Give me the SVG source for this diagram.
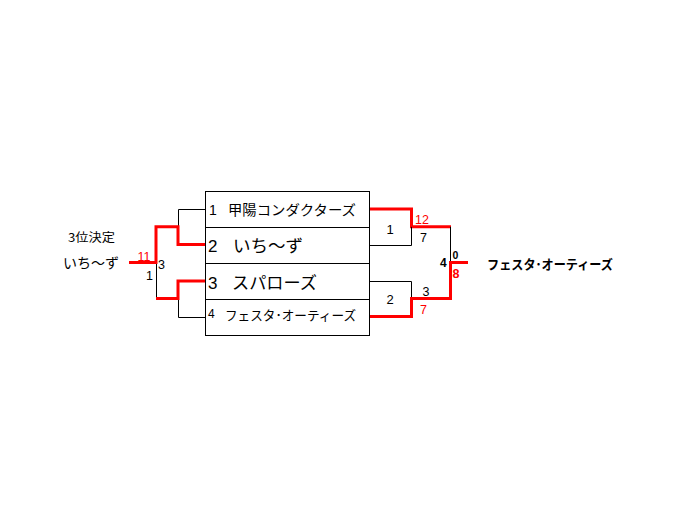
<svg xmlns="http://www.w3.org/2000/svg" width="696" height="525" viewBox="0 0 696 525">
<style>
.bg{fill:#ffffff}
.box{fill:#ffffff;stroke:#000000;stroke-width:1}
.ln{fill:none;stroke:#000000;stroke-width:1}
.win{fill:none;stroke:#ff0000;stroke-width:3;stroke-linejoin:miter;stroke-linecap:butt}
.t{font-family:"Liberation Sans","Noto Sans CJK JP",sans-serif;fill:#000000}
.jp{font-family:"Noto Sans CJK JP","Noto Sans",sans-serif;fill:#000000}
.red{fill:#ff0000}
.b{font-weight:bold}
</style>
<rect class="bg" x="0" y="0" width="696" height="525"/>
<g id="connectors">
  <!-- left bracket (3rd place) -->
  <path class="ln" d="M178.5 209.5 H205.5 M178.5 209.5 V227"/>
  <path class="ln" d="M156.5 262.5 V298.5"/>
  <path class="ln" d="M178.5 281 V317.5 H205.5"/>
  <path class="win" d="M205.5 244.5 H178 V226.8 H156 V262.5 H129"/>
  <path class="win" d="M156 298.5 H178 V281 H205.5"/>
  <!-- right bracket (semifinals and final) -->
  <path class="win" d="M369.5 209 H411.5 V226.8 H451"/>
  <path class="ln" d="M369.5 245.5 H411.5 V226.8"/>
  <path class="ln" d="M450.5 226.8 V262.5"/>
  <path class="ln" d="M369.5 281.5 H411.5 V298.5"/>
  <path class="win" d="M369.5 316.5 H411.5 V298.5 H450.5 V262.5 H468"/>
</g>
<g id="entries">
  <g id="team1">
    <rect class="box" x="205.5" y="191.5" width="164" height="36"/>
    <text class="t" x="209" y="215" font-size="14">1</text>
    <text class="jp" x="228" y="215" font-size="14" textLength="128" lengthAdjust="spacingAndGlyphs">甲陽コンダクターズ</text>
  </g>
  <g id="team2">
    <rect class="box" x="205.5" y="227.5" width="164" height="36"/>
    <text class="t" x="208" y="251.5" font-size="17">2</text>
    <text class="jp" x="233" y="251.5" font-size="17" textLength="70" lengthAdjust="spacingAndGlyphs">いち～ず</text>
  </g>
  <g id="team3">
    <rect class="box" x="205.5" y="263.5" width="164" height="36"/>
    <text class="t" x="208" y="288.5" font-size="17">3</text>
    <text class="jp" x="232" y="288.5" font-size="17" textLength="85" lengthAdjust="spacingAndGlyphs">スパローズ</text>
  </g>
  <g id="team4">
    <rect class="box" x="205.5" y="299.5" width="164" height="36"/>
    <text class="t" x="208" y="318" font-size="12">4</text>
    <text class="jp" x="225" y="320" font-size="13" textLength="131" lengthAdjust="spacingAndGlyphs">フェスタ･オーティーズ</text>
  </g>
</g>
<g id="match1">
  <text class="t" x="390" y="233.5" font-size="13" text-anchor="middle">1</text>
  <text class="t red" x="415" y="224" font-size="12.5">12</text>
  <text class="t" x="420" y="242" font-size="12.5">7</text>
</g>
<g id="match2">
  <text class="t" x="390" y="304" font-size="13" text-anchor="middle">2</text>
  <text class="t" x="422.5" y="296" font-size="12.5">3</text>
  <text class="t red" x="420" y="314" font-size="12.5">7</text>
</g>
<g id="final">
  <text class="t b" x="440" y="267" font-size="12">4</text>
  <text class="t b" x="452.5" y="259" font-size="10.5">0</text>
  <text class="t b red" x="452.5" y="277.5" font-size="12.5">8</text>
  <text class="jp b" x="487" y="269" font-size="13" textLength="126" lengthAdjust="spacingAndGlyphs">フェスタ･オーティーズ</text>
</g>
<g id="third-place">
  <text class="jp" x="68" y="242" font-size="12" textLength="47" lengthAdjust="spacingAndGlyphs">3位決定</text>
  <text class="jp" x="63" y="268" font-size="14" textLength="56" lengthAdjust="spacingAndGlyphs">いち～ず</text>
  <text class="t red" x="137.5" y="260.5" font-size="12.5">11</text>
  <text class="t" x="146" y="280" font-size="12.5">1</text>
  <text class="t" x="158" y="268.5" font-size="12.5">3</text>
</g>
</svg>
